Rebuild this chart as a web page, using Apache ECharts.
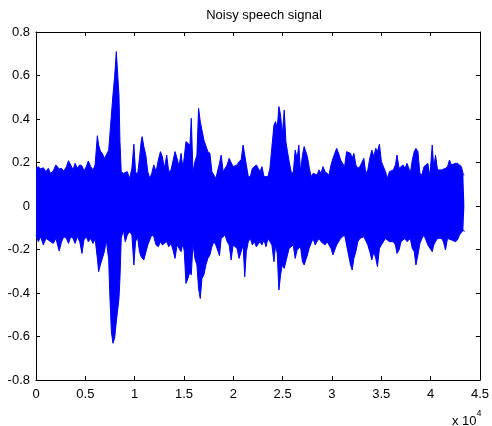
<!DOCTYPE html>
<html>
<head>
<meta charset="utf-8">
<script src="https://cdn.jsdelivr.net/npm/echarts@6/dist/echarts.min.js"></script>
<style>
html,body{margin:0;padding:0;background:#fff;}
#chart{width:492px;height:426px;}
</style>
</head>
<body>
<div id="chart"></div>
<script>
// Sample positions (sample index) where the signal envelope was read
const samples = [
0,240,470,740,1010,1240,1480,1750,2020,2350,2590,2820,3090,3290,3520,3760,3960,4190,4430,4660,4860,5100,5300,5550,5780,5990,6220,6350,6520,6720,6930,7130,7370,
7470,7640,7800,7970,8140,8310,8410,8510,8640,8850,9050,9250,9490,9720,9920,10090,10290,10490,10660,10760,10930,11130,11330,11530,11730,11940,12170,12400,12610,12810,13010,13250,13450,13690,13890,14090,14300,14500,14700,14900,
15030,15200,15400,15610,15740,15910,16110,16310,16480,16650,16820,17020,17220,17420,17630,17830,18030,18230,18430,18600,18770,18970,19170,19370,19580,19780,19980,20180,20380,20580,20790,20990,21160,21320,21520,21730,21930,22130,22330,22530,
22700,22900,23110,23310,23510,23710,23910,24120,24280,24450,24620,24790,24960,25160,25330,25490,25660,25860,26070,26270,26470,26640,26810,27010,27180,27350,27510,27680,27880,28090,28290,28490,28690,28890,29090,29300,29500,29700,29900,30100,
30270,30470,30670,30880,31080,31280,31480,31680,31880,32050,32220,32420,32620,32830,33030,33230,33430,33630,33830,34040,34240,34440,34610,34810,35010,35210,35420,35620,35820,36020,36220,36430,36590,36800,37000,37200,37400,37600,
37740,37940,38140,38340,38510,38710,38910,39120,39320,39520,39720,39920,40160,40320,40490,40700,40900,41100,41300,41500,41710,41910,42110,42310,42510,42720,42920,43120,43320,43420
];
// Upper envelope of the noisy signal
const upper = [
0.173,0.181,0.170,0.176,0.158,0.173,0.150,0.161,0.189,0.170,0.173,0.161,0.181,0.208,0.189,0.166,0.196,0.173,0.189,0.185,0.161,0.181,0.207,0.181,0.166,0.189,0.323,0.280,0.253,0.242,0.219,0.234,0.257,
0.250,0.418,0.510,0.595,0.710,0.702,0.510,0.296,0.158,0.150,0.143,0.158,0.127,0.173,0.284,0.158,0.143,0.219,0.296,0.319,0.273,0.234,0.158,0.127,0.150,0.189,0.158,0.211,0.250,0.227,0.173,0.234,0.158,0.166,0.173,0.250,0.219,0.181,0.242,0.173,
0.181,0.296,0.303,0.280,0.403,0.158,0.204,0.234,0.449,0.388,0.349,0.303,0.296,0.250,0.242,0.158,0.150,0.127,0.135,0.196,0.234,0.158,0.166,0.189,0.219,0.227,0.181,0.173,0.189,0.204,0.211,0.280,0.288,0.189,0.135,0.135,0.173,0.173,0.189,0.173,
0.158,0.181,0.135,0.143,0.135,0.173,0.166,0.372,0.388,0.357,0.457,0.418,0.326,0.441,0.296,0.250,0.204,0.158,0.150,0.257,0.219,0.280,0.158,0.234,0.273,0.265,0.227,0.181,0.135,0.150,0.150,0.143,0.166,0.150,0.181,0.158,0.150,0.143,0.189,0.219,
0.211,0.265,0.242,0.211,0.204,0.181,0.250,0.250,0.242,0.219,0.242,0.189,0.173,0.181,0.173,0.219,0.150,0.166,0.219,0.257,0.227,0.265,0.250,0.284,0.204,0.204,0.158,0.127,0.158,0.150,0.166,0.189,0.234,0.173,0.173,0.189,0.173,0.196,
0.181,0.150,0.211,0.250,0.265,0.250,0.150,0.143,0.181,0.189,0.196,0.135,0.280,0.173,0.234,0.166,0.158,0.166,0.166,0.173,0.181,0.211,0.189,0.189,0.196,0.196,0.189,0.181,0.143,0.143
];
// Lower envelope of the noisy signal
const lower = [
-0.133,-0.164,-0.141,-0.179,-0.149,-0.156,-0.164,-0.172,-0.149,-0.207,-0.164,-0.141,-0.149,-0.172,-0.141,-0.149,-0.172,-0.141,-0.164,-0.218,-0.156,-0.141,-0.164,-0.149,-0.172,-0.149,-0.241,-0.302,-0.271,-0.279,-0.210,-0.156,-0.248,
-0.394,-0.578,-0.631,-0.608,-0.532,-0.532,-0.425,-0.333,-0.149,-0.110,-0.164,-0.133,-0.118,-0.133,-0.271,-0.164,-0.141,-0.210,-0.233,-0.241,-0.248,-0.256,-0.179,-0.172,-0.133,-0.141,-0.179,-0.187,-0.164,-0.179,-0.187,-0.164,-0.187,-0.172,-0.202,-0.241,-0.179,-0.195,-0.210,-0.172,
-0.210,-0.356,-0.333,-0.302,-0.317,-0.172,-0.241,-0.271,-0.379,-0.425,-0.333,-0.317,-0.271,-0.241,-0.225,-0.187,-0.164,-0.179,-0.179,-0.228,-0.149,-0.141,-0.133,-0.164,-0.179,-0.248,-0.179,-0.187,-0.195,-0.241,-0.210,-0.179,-0.325,-0.210,-0.164,-0.149,-0.179,-0.164,-0.187,-0.179,
-0.164,-0.179,-0.156,-0.187,-0.149,-0.164,-0.179,-0.256,-0.179,-0.218,-0.386,-0.317,-0.271,-0.287,-0.287,-0.225,-0.195,-0.187,-0.179,-0.241,-0.202,-0.210,-0.187,-0.256,-0.271,-0.264,-0.225,-0.195,-0.172,-0.149,-0.179,-0.164,-0.149,-0.164,-0.156,-0.179,-0.164,-0.179,-0.195,-0.225,
-0.218,-0.179,-0.164,-0.149,-0.141,-0.133,-0.179,-0.225,-0.271,-0.294,-0.241,-0.210,-0.164,-0.149,-0.149,-0.141,-0.133,-0.179,-0.210,-0.248,-0.210,-0.241,-0.279,-0.195,-0.179,-0.179,-0.149,-0.149,-0.164,-0.156,-0.164,-0.179,-0.218,-0.202,-0.164,-0.156,-0.149,-0.164,
-0.172,-0.149,-0.195,-0.210,-0.271,-0.225,-0.172,-0.149,-0.133,-0.156,-0.179,-0.187,-0.210,-0.179,-0.164,-0.149,-0.141,-0.149,-0.164,-0.202,-0.149,-0.141,-0.156,-0.149,-0.164,-0.156,-0.133,-0.141,-0.110,-0.118
];
const xTickLabels = ['0','0.5','1','1.5','2','2.5','3','3.5','4','4.5'];
const titleText = 'Noisy speech signal';

const FONT = 'Liberation Sans, Arial, Helvetica, sans-serif';
const BLUE = '#0000ff';

const chart = echarts.init(document.getElementById('chart'), null, {renderer: 'canvas'});

const upperData = samples.map((s, i) => [s, upper[i]]);
const lowerData = samples.map((s, i) => [s, lower[i]]);

const xCommon = {
  type: 'value', min: 0, max: 45000, interval: 5000,
  axisLine: {show: true, onZero: false, lineStyle: {color: '#000', width: 1}},
  axisTick: {show: true, inside: true, length: 4, lineStyle: {color: '#000'}},
  splitLine: {show: false}
};
const yCommon = {
  type: 'value', min: -0.8, max: 0.8, interval: 0.2,
  axisLine: {show: true, onZero: false, lineStyle: {color: '#000', width: 1}},
  axisTick: {show: true, inside: true, length: 4, lineStyle: {color: '#000'}},
  splitLine: {show: false}
};

chart.setOption({
  animation: false,
  backgroundColor: '#fff',
  title: {
    text: titleText,
    left: 259, top: 4, textAlign: 'center',
    textStyle: {fontFamily: FONT, fontSize: 13, fontWeight: 'normal', color: '#000'}
  },
  grid: {left: 36, right: 10, top: 32, bottom: 46, containLabel: false},
  xAxis: [
    Object.assign({}, xCommon, {
      position: 'bottom',
      axisLabel: {
        color: '#000', fontFamily: FONT, fontSize: 13, margin: 8,
        formatter: (v) => xTickLabels[Math.round(v / 5000)]
      }
    }),
    Object.assign({}, xCommon, {position: 'top', axisLabel: {show: false}})
  ],
  yAxis: [
    Object.assign({}, yCommon, {
      position: 'left',
      axisLabel: {
        color: '#000', fontFamily: FONT, fontSize: 13, margin: 6,
        formatter: (v) => String(parseFloat(v.toFixed(1)))
      }
    }),
    Object.assign({}, yCommon, {position: 'right', axisLabel: {show: false}})
  ],
  graphic: [
    {
      type: 'text', left: 452, top: 409,
      style: {
        text: '{a|x 10}{b|4}',
        rich: {
          a: {fontFamily: FONT, fontSize: 13, fill: '#000', verticalAlign: 'bottom'},
          b: {fontFamily: FONT, fontSize: 9, fill: '#000', verticalAlign: 'top', padding: [0, 0, 10, 0]}
        }
      }
    }
  ],
  series: [
    {
      type: 'line', xAxisIndex: 0, yAxisIndex: 0, data: upperData,
      symbol: 'none', silent: true,
      lineStyle: {color: BLUE, width: 1},
      areaStyle: {color: BLUE, opacity: 1}
    },
    {
      type: 'line', xAxisIndex: 0, yAxisIndex: 0, data: lowerData,
      symbol: 'none', silent: true,
      lineStyle: {color: BLUE, width: 1},
      areaStyle: {color: BLUE, opacity: 1}
    }
  ]
});
</script>
</body>
</html>
